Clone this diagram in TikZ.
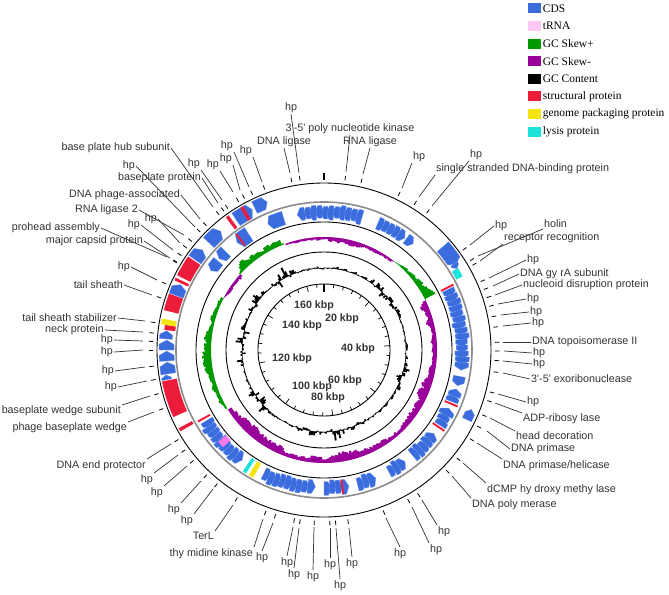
\documentclass[tikz,border=0pt]{standalone}
\usepackage{fontspec}
\setmainfont{Liberation Sans}
\newfontfamily\keyfont{Liberation Serif}
\usetikzlibrary{calc,positioning}

\definecolor{cdsblue}{RGB}{59,108,222}
\definecolor{trnapink}{RGB}{255,200,245}
\definecolor{trnaring}{RGB}{255,120,235}
\definecolor{skewpos}{RGB}{0,153,0}
\definecolor{skewneg}{RGB}{153,0,153}
\definecolor{structred}{RGB}{237,28,58}
\definecolor{packyellow}{RGB}{245,228,20}
\definecolor{lysiscyan}{RGB}{28,228,220}
\definecolor{labelgray}{RGB}{51,51,51}

% angles are compass degrees (clockwise from the top)
\newcommand{\band}[5]{%
  \fill[#5] ({90-(#1)}:#3) arc[start angle={90-(#1)}, end angle={90-(#2)}, radius=#3]
    -- ({90-(#2)}:#4) arc[start angle={90-(#2)}, end angle={90-(#1)}, radius=#4] -- cycle;}
\newcommand{\gene}[5]{%
  \pgfmathsetmacro\gsgn{ifthenelse(#2>#1,1,-1)}%
  \pgfmathsetmacro\ghead{#2-(\gsgn)*min(1.5,0.6*abs(#2-(#1)))}%
  \pgfmathsetmacro\gmid{(#3+#4)/2}%
  \filldraw[fill=#5, draw=white!30!#5, line width=0.25bp]
    ({90-(#1)}:#3) arc[start angle={90-(#1)}, end angle={90-(\ghead)}, radius=#3]
    -- ({90-(#2)}:\gmid) -- ({90-(\ghead)}:#4)
    arc[start angle={90-(\ghead)}, end angle={90-(#1)}, radius=#4] -- cycle;}
\newcommand{\genes}[4]{%
  \pgfmathsetmacro\gdir{ifthenelse(#2>#1,1,-1)}%
  \pgfmathsetmacro\gnext{#1+2.4*(\gdir)}%
  \pgfmathsetmacro\glast{#2-3.2*(\gdir)}%
  \foreach \ga in {#1,\gnext,...,\glast}{%
    \pgfmathsetmacro\gend{\ga+3.2*(\gdir)}%
    \pgfmathsetmacro\gin{#3+2.5*rnd}%
    \pgfmathsetmacro\gout{#4-2.5*rnd}%
    \gene{\ga}{\gend}{\gin}{\gout}{cdsblue}}}

\begin{document}
\begin{tikzpicture}[x=1bp,y=1bp,
    genelabel/.style={font=\fontsize{10.8}{12}\selectfont, text=labelgray, inner sep=1bp},
    leader/.style={black!80, line width=0.7bp},
    genetick/.style={black, line width=0.8bp},
    ring/.style={black, line width=0.9bp},
    kbp/.style={font=\fontsize{10.7}{12}\selectfont\bfseries, text=labelgray, inner sep=0pt},
    keybox/.style={minimum width=13bp, minimum height=10bp, inner sep=0pt},
    keytext/.style={font=\keyfont\fontsize{11.5}{13}\selectfont, inner sep=1.5bp}]

\useasboundingbox (0,0) rectangle (669,-595);
\coordinate (ctr) at (324,-350);

\begin{scope}[shift={(ctr)}]
  % inner strand
  \pgfmathsetseed{3}
  \gene{-17}{-24}{131}{145}{cdsblue}
  \genes{16}{-13}{130}{146}
  \genes{23}{37}{130}{146}
  \gene{36.5}{40}{133}{144}{cdsblue}
  \genes{64}{100}{130}{146}
  \gene{101}{105}{132}{144}{cdsblue}
  \genes{112}{106}{130}{146}
  \genes{123}{114}{130}{146}
  \genes{140}{126}{130}{146}
  \genes{152}{144}{130}{146}
  \genes{166}{158}{130}{146}
  \genes{180}{168}{130}{146}
  \genes{206}{183}{130}{146}
  \genes{239}{215}{130}{146}
  \band{226}{229}{130}{140}{trnaring}
  \band{209}{211}{130}{146}{packyellow}
  \band{212.3}{213.8}{130}{146}{lysiscyan}
  \gene{310}{305}{132}{144}{cdsblue}
  \gene{315}{311}{132}{146}{cdsblue}
  \gene{327}{321}{130}{146}{cdsblue}
  \foreach \ra in {62.8,112.5,123.5,172,240,322.5}
    \band{\ra}{\ra+0.8}{131}{145}{structred};
  % outer strand
  \gene{49}{57}{150}{165}{cdsblue}
  \gene{56.5}{58.5}{152}{160}{cdsblue}
  \band{58.5}{62}{150}{157}{lysiscyan}
  \gene{116}{112}{154}{164}{cdsblue}
  \band{240.5}{241.7}{150}{165}{structred}
  \band{246}{259}{150}{165}{structred}
  \gene{259.3}{261}{155}{165}{cdsblue}
  \gene{261.3}{265.6}{150}{165}{cdsblue}
  \gene{266}{269.6}{150}{165}{cdsblue}
  \gene{270}{273.6}{150}{165}{cdsblue}
  \gene{274}{277}{152}{165}{cdsblue}
  \band{277.2}{279}{150}{161}{structred}
  \band{279}{281}{150}{165}{packyellow}
  \band{284}{290}{150}{165}{structred}
  \gene{290.2}{294.5}{150}{165}{cdsblue}
  \band{295}{296}{150}{165}{structred}
  \band{297}{304.5}{150}{165}{structred}
  \gene{305}{309.5}{150}{165}{cdsblue}
  \gene{313}{319}{150}{165}{cdsblue}
  \band{323.5}{324.7}{150}{165}{structred}
  \gene{326}{333}{150}{165}{cdsblue}
  \band{329.5}{330.7}{150}{165}{structred}
  \gene{334}{339}{152}{165}{cdsblue}

  % GC skew
  \gdef\skprev{0}
  \pgfmathsetseed{21}
  \foreach \ang in {0,...,359}{
    \pgfmathsetmacro\sk{(\ang<37 || \ang>=338) ? -1 : ((\ang<63) ? 1 : ((\ang<238) ? -1 : ((\ang>=297 && \ang<=311) ? -0.6 : 1)))}
    \pgfmathsetmacro\am{(\ang<37 || \ang>=338) ? 7 : ((\ang<63) ? 3+11*(\ang-37)/26 : ((\ang<238) ? 13 : 11))}
    \pgfmathsetmacro\hv{0.5*\skprev+0.5*(\sk)*\am*(0.25+0.75*rnd)*(0.75+0.25*sin(7*\ang+20))}
    \xdef\skprev{\hv}
    \ifdim\hv pt>0pt \def\skcol{skewpos}\else\def\skcol{skewneg}\fi
    \fill[\skcol] ({90-\ang}:113) -- ({90-\ang}:{113+\hv}) -- ({88.8-\ang}:{113+\hv}) -- ({88.8-\ang}:113) -- cycle;
  }

  % GC content
  \gdef\gcprev{0}
  \pgfmathsetseed{8}
  \foreach \ang in {0,...,359}{
    \pgfmathsetmacro\bmp{max(0,1-abs(\ang-50)/20)+max(0,1-abs(\ang-108)/12)+max(0,1-abs(\ang-175)/28)+max(0,1-abs(\ang-232)/10)+max(0,1-abs(\ang-275)/20)+max(0,1-abs(\ang-305)/10)+max(0,1-abs(\ang-330)/10)}
    \pgfmathsetmacro\hv{0.4*\gcprev+0.75*(rnd-0.42)*(4+26*\bmp*rnd)}
    \xdef\gcprev{\hv}
    \fill[black] ({90-\ang}:82) -- ({90-\ang}:{82+\hv}) -- ({88.8-\ang}:{82+\hv}) -- ({88.8-\ang}:82) -- cycle;
  }
  \draw[black, line width=0.4bp] (0,0) circle[radius=82];

  % rings
  \draw[ring] (0,0) circle[radius=167];
  \draw[black!45, line width=1.6bp] (0,0) circle[radius=148];
  \draw[ring] (0,0) circle[radius=128];
  \draw[ring] (0,0) circle[radius=98];
  \draw[ring] (0,0) circle[radius=66];

  % scale ticks
  \foreach \tk in {1,...,41}{
    \pgfmathsetmacro\ta{90-\tk*8.6228}
    \pgfmathsetmacro\tl{ifthenelse(mod(\tk,5)==0,6,3.5)}
    \draw[line width=0.7bp] (\ta:66) -- (\ta:{66-\tl});
  }
  \draw[line width=1.6bp] (90:66) -- (90:58);
  \draw[line width=1.6bp] (90:170) -- (90:177);
\end{scope}

\foreach \nm/\kx/\ky/\kt in {k160/314/306/160 kbp, k20/342/319/20 kbp,
    k140/302/326/140 kbp, k40/358/349/40 kbp, k120/292/359/120 kbp,
    k60/345/381/60 kbp, k100/312/387/100 kbp, k80/328/398/80 kbp}
  \node[kbp] (\nm) at (\kx,-\ky) {\kt};

% gene labels
\foreach \nm/\anc/\lx/\ly/\txt/\gx/\gy in {
    r1/west/494/226/hp/470/245,
    r2/south west/543/229/holin/478/256,
    r3/south west/503/244/receptor recognition/480/261,
    r4/west/526/260/hp/489/278,
    r5/west/519/274/DNA gy rA subunit/493/286,
    r6/west/522/285/nucleoid disruption protein/495/295,
    r7/west/526/299/hp/498/304,
    r8/west/529/312/hp/501/315,
    r9/west/531/323/hp/503/326,
    r10/west/531/342/DNA topoisomerase II/503/342,
    r11/west/532/353/hp/504/351,
    r12/west/532/364/hp/503/361,
    r13/west/530/379/3\textquotesingle-5\textquotesingle{} exoribonuclease/503/373,
    r14/west/526/402/hp/498/394,
    r15/north west/522/413/ADP-ribosy lase/495/403,
    r16/north west/515/431/head decoration/490/418,
    r17/west/510/449/DNA primase/487/431,
    r18/north west/502/459/{DNA primase/helicase}/477/443,
    r19/north west/486/483/dCMP hy droxy methy lase/463/463,
    r20/north west/471/498/DNA poly merase/452/476,
    b1/north west/437/525/hp/422/500,
    b2/north west/429/543/hp/412/507,
    b3/north/400/547/hp/386/518,
    b4/north/352/557/hp/349/528,
    b5/north/330/558/hp/330/528,
    b6/north/340/579/hp/336/528,
    b7/north/313/570/hp/314/527,
    b8/north/294/568/hp/299/528,
    b9/north/287/556/hp/293/527,
    b10/north/262/551/hp/273/523,
    b11/north east/254/547/thy midine kinase/263/519,
    b12/north east/215/531/TerL/233/505,
    b13/north east/194/514/hp/213/489,
    b14/north east/181/503/hp/201/481,
    b15/north east/164/486/hp/187/466,
    b16/north east/154/473/hp/178/455,
    b17/north east/147/459/DNA end protector/171/444,
    l1/north east/128/422/phage baseplate wedge/154/412,
    l2/north east/122/405/baseplate wedge subunit/150/396,
    l3/east/118/387/hp/147/381,
    l4/east/115/371/hp/145/367,
    l5/east/114/352/hp/143/350,
    l6/east/114/340/hp/143/341,
    l7/east/105/330/neck protein/143/332,
    l8/east/118/318/tail sheath stabilizer/145/321,
    l9/east/124/285/tail sheath/152/295,
    l10/east/131/267/hp/157/280,
    l11/east/144/241/major capsid protein/170/258,
    l12/east/101/228/prohead assembly/167/257,
    l13/east/141/225/hp/173/250,
    l14/east/158/219/hp/180/243,
    l15/east/139/210/RNA ligase 2/184/235,
    l16/east/181/195/DNA phage-associated/200/219,
    l17/east/202/178/baseplate protein/218/203,
    l18/east/136/166/hp/195/227,
    l19/east/171/148/base plate hub subunit/213/207,
    l20/south east/201/170/hp/222/200,
    l21/south east/220/171/hp/233/192,
    l22/south east/233/165/hp/240/190,
    l23/south east/234/152/hp/249/187,
    l24/south east/253/157/hp/262/182,
    t1/south/284/148/DNA ligase/290/173,
    t2/south/291/114/hp/299/173,
    t3/south/350/135/3\textquotesingle-5\textquotesingle{} poly nucleotide kinase/346/172,
    t4/south/370/148/RNA ligase/363/174,
    t5/south west/412/163/hp/402/188,
    t6/south west/435/175/single stranded DNA-binding protein/419/197,
    t7/south west/469/161/hp/432/206}{
  \node[genelabel, anchor=\anc] (\nm) at (\lx,-\ly) {\txt};
  \coordinate (g\nm) at (\gx,-\gy);
  \draw[leader] (\nm.\anc) -- (g\nm);
  \draw[genetick] ($(ctr)!171bp!(g\nm)$) -- ($(ctr)!175.5bp!(g\nm)$);
}

% legend
\foreach \i/\col/\txt in {0/cdsblue/CDS, 1/trnapink/tRNA, 2/skewpos/GC Skew+,
    3/skewneg/GC Skew-, 4/black/GC Content, 5/structred/structural protein,
    6/packyellow/genome packaging protein, 7/lysiscyan/lysis protein}{
  \node[keybox, fill=\col] (key\i) at (534.5,{-(8.5+17.6*\i)}) {};
  \node[keytext, right=0pt of key\i] (keytext\i) {\txt};
}
\end{tikzpicture}
\end{document}
